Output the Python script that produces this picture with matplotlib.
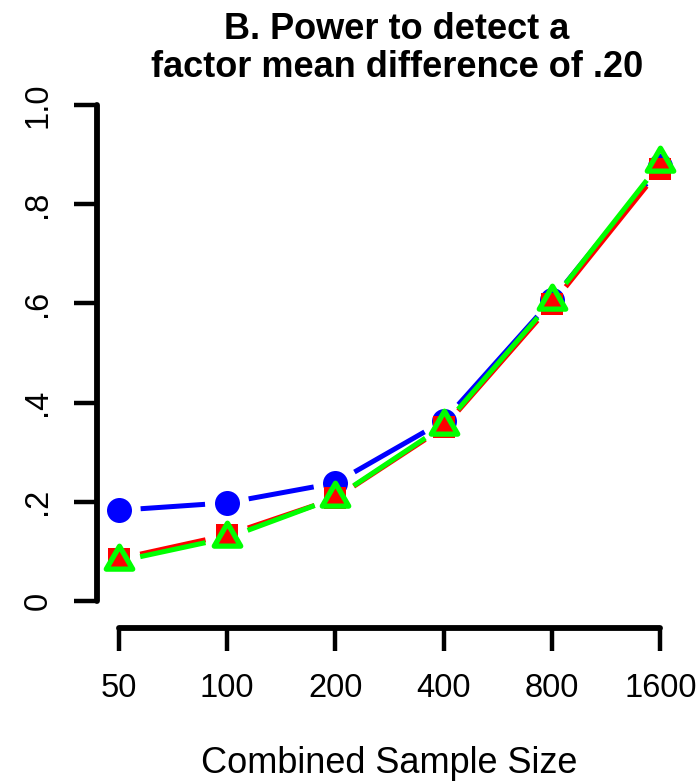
import matplotlib
matplotlib.use('Agg')
import matplotlib.pyplot as plt
import numpy as np
from matplotlib.path import Path

# Data
sizes = ['50', '100', '200', '400', '800', '1600']
power_blue = [0.183, 0.198, 0.238, 0.363, 0.607, 0.876]
power_red = [0.085, 0.133, 0.207, 0.350, 0.599, 0.871]
power_green = [0.080, 0.127, 0.208, 0.353, 0.605, 0.883]
y_ticks = [0, 0.2, 0.4, 0.6, 0.8, 1.0]
y_tick_labels = ['0', '.2', '.4', '.6', '.8', '1.0']

plt.rcParams['font.family'] = ['Liberation Sans', 'DejaVu Sans']

fig = plt.figure(figsize=(7, 7.82), dpi=100)
ax = fig.add_axes([97 / 700, 154 / 782, 585 / 700, 543 / 782])
x = np.arange(len(sizes))
ax.set_xlim(-0.2, len(sizes) - 1 + 0.2)
ax.set_ylim(-0.0544, 1.0403)
ax.set_autoscale_on(False)


# R style type="b": line segments stop short of the points
def gapped_line(ax, xs, ys, color, gap=22, lw=3.6):
    pts = ax.transData.transform(np.column_stack([xs, ys]))
    inv = ax.transData.inverted()
    for p0, p1 in zip(pts[:-1], pts[1:]):
        d = p1 - p0
        n = np.hypot(*d)
        if n <= 2 * gap:
            continue
        u = d / n
        a = inv.transform(p0 + u * gap)
        b = inv.transform(p1 - u * gap)
        ax.plot([a[0], b[0]], [a[1], b[1]], color=color, lw=lw,
                solid_capstyle='butt')


tri = Path([(0, 1.155), (-1, -0.577), (1, -0.577), (0, 1.155)], closed=True)

gapped_line(ax, x, power_blue, '#0000ff')
ax.plot(x, power_blue, 'o', color='#0000ff', ms=18, mew=0, zorder=3)
gapped_line(ax, x, power_red, '#ff0000')
ax.plot(x, power_red, 's', color='#ff0000', ms=16.5, mew=0, zorder=3)
gapped_line(ax, x, power_green, '#00ff00')
ax.plot(x, power_green, ls='none', marker=tri, mfc='none', mec='#00ff00',
        ms=22, mew=3.8, zorder=3)

for side in ['top', 'right']:
    ax.spines[side].set_visible(False)
ax.spines['left'].set_bounds(0, 1)
ax.spines['bottom'].set_bounds(0, len(sizes) - 1)
for side in ['left', 'bottom']:
    ax.spines[side].set_linewidth(4.2)
    ax.spines[side].set_capstyle('round')

ax.set_xticks(x)
ax.set_xticklabels(sizes)
ax.set_yticks(y_ticks)
ax.set_yticklabels(y_tick_labels, rotation=90, va='center')
ax.tick_params(axis='both', direction='out', length=16.5, width=3.2,
               labelsize=23.5)
ax.tick_params(axis='x', pad=16)
ax.tick_params(axis='y', pad=15)

ax.set_xlabel('Combined Sample Size', fontsize=26, labelpad=30)

fig.text(397 / 700, 1 - 12 / 782,
         'B. Power to detect a\nfactor mean difference of .20',
         ha='center', va='top', fontsize=26, fontweight='bold',
         linespacing=1.12)

fig.savefig('out.png', dpi=100)
